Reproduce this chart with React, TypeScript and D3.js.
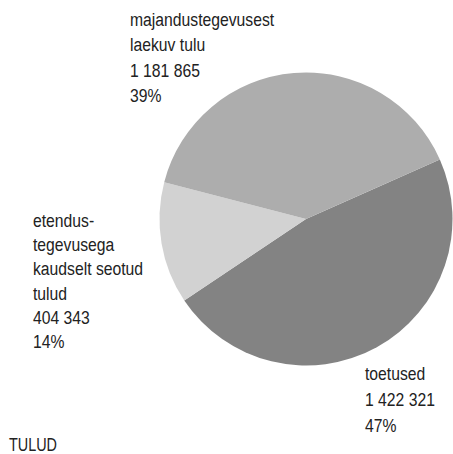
import React from "react";
import * as d3 from "d3";

const categories = ["toetused", "etendus", "majandus"];
const values = [1422321, 404343, 1181865];
const colors = ["#838383", "#d2d2d2", "#adadad"];
const labelLines = [
  ["toetused", "1 422 321", "47%"],
  ["etendus-", "tegevusega", "kaudselt seotud", "tulud", "404 343", "14%"],
  ["majandustegevusest", "laekuv tulu", "1 181 865", "39%"],
];
const labelPos = [
  { x: 365, y: 380, dy: 26 },
  { x: 33, y: 227, dy: 24.2 },
  { x: 130, y: 26, dy: 25.3 },
];
const title = "TULUD";

export default function App() {
  const W = 453, H = 454;
  const cx = 306, cy = 219, r = 146.5;
  const start = (66 * Math.PI) / 180;
  const pie = d3
    .pie<number>()
    .sort(null)
    .startAngle(start)
    .endAngle(start + 2 * Math.PI);
  const arcs = pie(values);
  const arc = d3.arc<d3.PieArcDatum<number>>().innerRadius(0).outerRadius(r);
  const font = "'Liberation Sans', Arial, sans-serif";
  const sx = 0.85;
  return (
    <svg
      width={W}
      height={H}
      style={{ position: "absolute", left: 0, top: 0, background: "#fff" }}
    >
      <g transform={`translate(${cx},${cy})`}>
        {arcs.map((a, i) => (
          <path key={categories[i]} d={arc(a) || ""} fill={colors[i]} />
        ))}
      </g>
      {labelLines.map((lines, i) => (
        <g key={i} transform={`translate(${labelPos[i].x},0) scale(${sx},1)`}>
          <text fontFamily={font} fontSize={18.5} fill="#222">
            {lines.map((l, j) => (
              <tspan key={j} x={0} y={labelPos[i].y + j * labelPos[i].dy}>
                {l}
              </tspan>
            ))}
          </text>
        </g>
      ))}
      <text
        x={9}
        y={450.5}
        fontFamily={font}
        fontSize={19}
        fill="#222"
        textLength={48}
        lengthAdjust="spacingAndGlyphs"
      >
        {title}
      </text>
    </svg>
  );
}
